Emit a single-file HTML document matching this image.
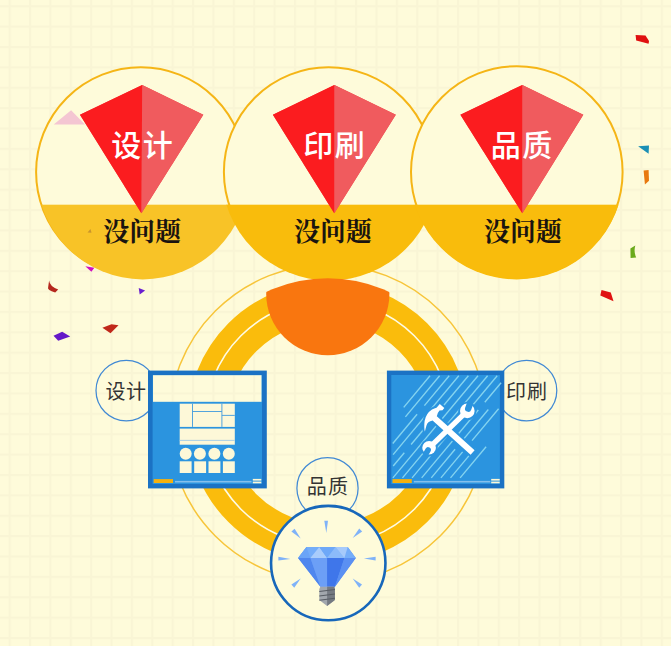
<!DOCTYPE html>
<html lang="zh-CN">
<head>
<meta charset="utf-8">
<title>设计 印刷 品质 没问题</title>
<style>
html,body{margin:0;padding:0;background:#fefbda;}
body{width:671px;height:646px;overflow:hidden;}
svg{display:block;}
.sans{font-family:"Liberation Sans","Noto Sans CJK SC",sans-serif;}
.serif{font-family:"Liberation Serif","Noto Serif CJK SC",serif;}
</style>
</head>
<body>
<svg width="671" height="646" viewBox="0 0 671 646">
<defs>
  <pattern id="grid" x="8.6" y="5.2" width="20.38" height="20.38" patternUnits="userSpaceOnUse">
    <rect width="20.38" height="20.38" fill="#fefbda"/>
    <rect x="0" y="0" width="2" height="20.38" fill="#f9f5d5"/>
    <rect x="0" y="0" width="20.38" height="2" fill="#f9f5d5"/>
  </pattern>
  <clipPath id="c1"><circle cx="142.7" cy="173.5" r="105.9"/></clipPath>
  <clipPath id="c2"><circle cx="329.5" cy="172.4" r="108.1"/></clipPath>
  <clipPath id="c3"><circle cx="516.7" cy="172.6" r="106.8"/></clipPath>
  <clipPath id="ringclip"><circle cx="327.7" cy="423.5" r="145.2"/></clipPath>
</defs>

<!-- background -->
<rect width="671" height="646" fill="url(#grid)"/>

<!-- ring -->
<g id="ring">
  <circle cx="327.7" cy="423.5" r="159" fill="none" stroke="#f7c53a" stroke-width="1.5"/>
  <circle cx="327.8" cy="422.7" r="120.8" fill="none" stroke="#fabc0c" stroke-width="39.5"/>
  <circle cx="327.6" cy="422.5" r="122.6" fill="none" stroke="#fefbe4" stroke-width="1.6"/>
</g>

<!-- confetti -->
<g id="confetti">
  <polygon points="85.3,266.3 94.4,267.7 91.4,271.8" fill="#d010c0"/>
  <path d="M49.1,280.4 Q49.5,286 58.2,289.5 L55.2,292.5 Q47,290 48.1,287.4 Z" fill="#b5281e"/>
  <polygon points="138.7,287.9 145.1,290.5 139.7,294.5" fill="#6a1fd0"/>
  <polygon points="102.4,327.7 111.5,324.3 118.5,325.3 110.5,333.3" fill="#c0281a"/>
  <polygon points="53.5,335.7 62.2,331.7 70.2,336.4 58.2,340.8" fill="#6418c8"/>
  <polygon points="635.6,35.1 645.5,35.5 649,41.1 648.6,43.8 636.2,40.4" fill="#e01010"/>
  <polygon points="638.1,146.3 649,145.4 648.6,153.7" fill="#1b8fb5"/>
  <polygon points="643.6,170.5 648.6,169.9 649,180.7 644.9,184.4" fill="#e8780f"/>
  <path d="M630.4,248.6 L635.3,245.5 Q633.5,252 636.2,257.5 L630.6,257.9 Z" fill="#6baa1c"/>
  <polygon points="601.5,290.1 610.8,292.5 613.5,301.2 600.3,295.4" fill="#e01212"/>
</g>

<!-- top circle 1 -->
<g id="circle1">
  <circle cx="140.8" cy="172" r="104.7" fill="#fefbda" stroke="#f5b516" stroke-width="2"/>
  <rect x="30" y="204.7" width="230" height="80" fill="#f8c327" clip-path="url(#c1)"/>
  <polygon points="53.7,124.6 71.1,110.2 85,124.6" fill="#f4c6d2"/>
  <polygon points="142.2,85 203.3,114.7 141.4,213.2 80,114.7" fill="#f53a3d"/>
  <polygon points="142.2,85 80,114.7 141.4,213.2" fill="#fb1c1f"/>
  <polygon points="142.2,85 203.3,114.7 141.4,213.2" fill="#f05b5e"/>
  <polygon points="87.5,232.5 90.5,229 91.5,232.8" fill="#c9952c"/>
  <text class="sans" x="111.2" y="155.6" font-size="30" font-weight="500" letter-spacing="1.6" fill="#ffffff">设计</text>
  <text class="serif" x="142.2" y="241" font-size="26" font-weight="700" fill="#1a1410" text-anchor="middle">没问题</text>
</g>

<!-- top circle 2 -->
<g id="circle2">
  <circle cx="328.6" cy="172" r="104.7" fill="#fefbda" stroke="#f5b516" stroke-width="2"/>
  <rect x="215" y="204.7" width="235" height="80" fill="#f9bc0c" clip-path="url(#c2)"/>
  <polygon points="334.4,85 395.8,114.7 334.3,213.2 272.9,114.7" fill="#f53a3d"/>
  <polygon points="334.4,85 272.9,114.7 334.3,213.2" fill="#fb1c1f"/>
  <polygon points="334.4,85 395.8,114.7 334.3,213.2" fill="#f05b5e"/>
  <text class="sans" x="303.2" y="155.6" font-size="30" font-weight="500" letter-spacing="1.6" fill="#ffffff">印刷</text>
  <text class="serif" x="333" y="241" font-size="26" font-weight="700" fill="#1a1410" text-anchor="middle">没问题</text>
</g>

<!-- top circle 3 -->
<g id="circle3">
  <circle cx="516.8" cy="172" r="105.8" fill="#fefbda" stroke="#f5b516" stroke-width="2"/>
  <rect x="405" y="204.7" width="230" height="80" fill="#f9bc0c" clip-path="url(#c3)"/>
  <polygon points="522.3,85 583.3,114.7 522.3,213.2 460.4,114.7" fill="#f53a3d"/>
  <polygon points="522.3,85 460.4,114.7 522.3,213.2" fill="#fb1c1f"/>
  <polygon points="522.3,85 583.3,114.7 522.3,213.2" fill="#f05b5e"/>
  <text class="sans" x="490.7" y="155.6" font-size="30" font-weight="500" letter-spacing="1.6" fill="#ffffff">品质</text>
  <text class="serif" x="523" y="241" font-size="26" font-weight="700" fill="#1a1410" text-anchor="middle">没问题</text>
</g>

<!-- orange half disc -->
<circle cx="327.8" cy="293.7" r="61.6" fill="#f9760f" clip-path="url(#ringclip)"/>

<!-- label circles -->
<g id="labels">
  <circle cx="126.3" cy="390.6" r="30.3" fill="url(#grid)" stroke="#4189d4" stroke-width="1.25"/>
  <text class="sans" x="105.6" y="398.9" font-size="20" letter-spacing="0.5" fill="#333333">设计</text>
  <circle cx="526.5" cy="390.6" r="30.3" fill="url(#grid)" stroke="#4189d4" stroke-width="1.25"/>
  <text class="sans" x="506" y="398.6" font-size="20" letter-spacing="1" fill="#333333">印刷</text>
  <circle cx="327.5" cy="488.2" r="30.6" fill="url(#grid)" stroke="#4189d4" stroke-width="1.25"/>
  <text class="sans" x="306.8" y="494.2" font-size="20" letter-spacing="1.2" fill="#333333">品质</text>
</g>

<!-- box 1 -->
<g id="box1">
  <rect x="148" y="370.6" width="118.8" height="117.8" fill="#1b72c4"/>
  <rect x="152.6" y="375" width="109.4" height="109" fill="#2b94df"/>
  <rect x="153" y="375.2" width="108.5" height="26.6" fill="url(#grid)"/>
  <!-- wireframe block 1 -->
  <rect x="179.7" y="403.7" width="55.1" height="23.2" fill="#fdf8d8"/>
  <g stroke="#3f9ade" stroke-width="0.9" fill="none">
    <line x1="192.5" y1="403.7" x2="192.5" y2="426.9"/>
    <line x1="221.9" y1="403.7" x2="221.9" y2="426.9"/>
    <line x1="192.5" y1="411.5" x2="221.9" y2="411.5"/>
    <line x1="221.9" y1="415.4" x2="234.8" y2="415.4"/>
  </g>
  <!-- wireframe block 2 -->
  <rect x="179.7" y="428.6" width="55.1" height="16.1" fill="#fdf8d8"/>
  <line x1="179.7" y1="440.4" x2="234.8" y2="440.4" stroke="#9fcbe8" stroke-width="0.9"/>
  <!-- circles -->
  <g fill="#fdf8d8">
    <circle cx="185.7" cy="453.8" r="6"/>
    <circle cx="199.9" cy="453.8" r="6"/>
    <circle cx="214.4" cy="453.8" r="6"/>
    <circle cx="228.8" cy="453.8" r="6"/>
    <rect x="179.7" y="461.3" width="11.9" height="11.7"/>
    <rect x="194.2" y="461.3" width="11.9" height="11.7"/>
    <rect x="208.5" y="461.3" width="11.9" height="11.7"/>
    <rect x="222.9" y="461.3" width="11.9" height="11.7"/>
  </g>
  <!-- bottom bar -->
  <rect x="153.7" y="479.1" width="19.3" height="3.9" fill="#f6b10e"/>
  <rect x="175" y="480.9" width="76.5" height="1.6" fill="#86c0ec"/>
  <rect x="252.8" y="478.9" width="8.5" height="1.7" fill="#fdf8d8"/>
  <rect x="252.8" y="481.6" width="8.5" height="1.7" fill="#fdf8d8"/>
</g>

<!-- box 2 -->
<g id="box2">
  <rect x="386.9" y="370.6" width="117.4" height="117.8" fill="#1b72c4"/>
  <rect x="391.3" y="375" width="108.6" height="109" fill="#2b94df"/>
  <g stroke="#84d4f0" stroke-width="1.35" fill="none" stroke-linecap="butt">
    <line x1="430.0" y1="375.8" x2="403.7" y2="407.4"/>
    <line x1="439.6" y1="375.8" x2="405.4" y2="416.9"/>
    <line x1="449.2" y1="375.8" x2="424.4" y2="405.6"/>
    <line x1="417.1" y1="414.3" x2="392.8" y2="443.5"/>
    <line x1="458.8" y1="375.8" x2="393.1" y2="454.6"/>
    <line x1="468.4" y1="375.8" x2="411.1" y2="444.5"/>
    <line x1="404.3" y1="452.7" x2="393.2" y2="466.0"/>
    <line x1="478.0" y1="375.8" x2="392.9" y2="477.9"/>
    <line x1="487.6" y1="375.8" x2="402.5" y2="477.9"/>
    <line x1="497.2" y1="375.8" x2="412.1" y2="477.9"/>
    <line x1="501.1" y1="382.7" x2="484.8" y2="402.2"/>
    <line x1="478.3" y1="410.0" x2="421.7" y2="477.9"/>
    <line x1="488.3" y1="409.5" x2="463.8" y2="438.9"/>
    <line x1="455.1" y1="449.3" x2="431.3" y2="477.9"/>
    <line x1="498.6" y1="408.7" x2="472.0" y2="440.6"/>
    <line x1="462.6" y1="451.9" x2="440.9" y2="477.9"/>
    <line x1="475.1" y1="448.4" x2="450.5" y2="477.9"/>
    <line x1="486.1" y1="446.7" x2="460.1" y2="477.9"/>
  </g>
  <!-- bottom bar -->
  <rect x="392.5" y="479.1" width="19.3" height="3.9" fill="#f6b10e"/>
  <rect x="413.8" y="480.9" width="76.5" height="1.6" fill="#86c0ec"/>
  <rect x="491.2" y="478.9" width="8.5" height="1.7" fill="#fdf8d8"/>
  <rect x="491.2" y="481.6" width="8.5" height="1.7" fill="#fdf8d8"/>
  <!-- tools icon -->
  <!-- halo so hatch lines stop short of the tools -->
  <g stroke="#2b94df" fill="#2b94df" stroke-linejoin="round">
    <line x1="429.1" y1="447.8" x2="467.3" y2="410.9" stroke-width="9.3"/>
    <circle cx="467.3" cy="410.9" r="9.2" stroke="none"/>
    <circle cx="429.1" cy="447.8" r="8.7" stroke="none"/>
    <path stroke-width="4" d="M439.8,404 L444.3,407.9 L442.5,410.2 L439.5,410.5 Q437.3,413 436.8,416.2 L474.6,450.2 L470.6,454.7 L432.6,420.5 Q427.4,421.3 426.4,425.8 Q425.6,428.5 424.9,431.6 Q423.8,428 424.6,421 Q426,413.5 432,409.6 Q434.5,408 436.5,407.7 Z"/>
  </g>
  <mask id="wrenchmask" maskUnits="userSpaceOnUse" x="410" y="395" width="80" height="70">
    <rect x="410" y="395" width="80" height="70" fill="#fff"/>
    <line x1="468.2" y1="408.6" x2="471.7" y2="399.2" stroke="#000" stroke-width="6.4" stroke-linecap="round"/>
    <line x1="428.1" y1="450" x2="423" y2="458.6" stroke="#000" stroke-width="5.6" stroke-linecap="round"/>
  </mask>
  <g mask="url(#wrenchmask)" fill="#ffffff">
    <line x1="429.1" y1="447.8" x2="467.3" y2="410.9" stroke="#ffffff" stroke-width="5.3"/>
    <circle cx="467.3" cy="410.9" r="7.3"/>
    <circle cx="429.1" cy="447.8" r="6.8"/>
  </g>
  <path fill="#ffffff" d="M439.8,404 L444.3,407.9 L442.5,410.2 L439.5,410.5 Q437.3,413 436.8,416.2 L474.6,450.2 L470.6,454.7 L432.6,420.5 Q427.4,421.3 426.4,425.8 Q425.6,428.5 424.9,431.6 Q423.8,428 424.6,421 Q426,413.5 432,409.6 Q434.5,408 436.5,407.7 Z"/>
</g>

<!-- diamond circle -->
<g id="gem">
  <circle cx="328.25" cy="563.1" r="57.2" fill="#fefbda" stroke="#1767ba" stroke-width="2.6"/>
  <!-- rays -->
  <g fill="#7fb2f8">
    <polygon points="324.3,520.8 328,520.8 326.3,532.9"/>
    <polygon points="291.4,531.6 294.6,528.8 300.7,538.5"/>
    <polygon points="359.2,528.6 362.2,531.6 352.7,538.1"/>
    <polygon points="278.4,556.7 278.4,560.4 290.4,558.9"/>
    <polygon points="375.6,556.7 375.6,560.4 363.9,558.5"/>
    <polygon points="291.4,584.6 294.2,587.7 300.7,578.4"/>
    <polygon points="359.2,587.7 362,584.6 352.7,578.4"/>
  </g>
  <!-- backing shape to avoid anti-alias seams between facets -->
  <polygon points="306.5,546.9 347.7,546.9 355.8,558 334.9,586.8 320.4,586.8 298.1,558" fill="#5f93f3"/>
  <!-- crown -->
  <polygon points="306.5,546.9 347.7,546.9 355.8,558 298.1,558" fill="#74adf9"/>
  <polygon points="310.4,558 319.3,546.9 327.1,558" fill="#a9ccfb"/>
  <polygon points="319.3,546.9 335.5,546.9 327.1,558" fill="#6ea8f8"/>
  <polygon points="327.1,558 335.5,546.9 344.4,558" fill="#8cbbfa"/>
  <polygon points="335.5,546.9 347.7,546.9 344.4,558" fill="#a6cafb"/>
  <polygon points="298.1,558 306.5,546.9 310.4,558" fill="#6aa4f7"/>
  <!-- pavilion -->
  <polygon points="298.1,558 310.4,558 320.4,586.8" fill="#4f86ee"/>
  <polygon points="310.4,558 327.1,558 327.1,586.8 320.4,586.8" fill="#6c9ff6"/>
  <polygon points="327.1,558 344.4,558 334.9,586.8 327.1,586.8" fill="#3f76ea"/>
  <polygon points="344.4,558 355.8,558 334.9,586.8" fill="#5b90f2"/>
  <!-- screw -->
  <polygon points="320.4,586.8 334.3,586.8 334.9,589 334.9,600 327.1,606 319.3,600 319.3,589" fill="#a2a7ad"/>
  <polygon points="327.1,586.8 334.3,586.8 334.9,589 334.9,600 327.1,606" fill="#757a82"/>
  <g stroke="#585d64" stroke-width="1.1" fill="none">
    <line x1="319.3" y1="591.5" x2="334.9" y2="589.5"/>
    <line x1="319.3" y1="596" x2="334.9" y2="594"/>
    <line x1="319.3" y1="600.3" x2="334.9" y2="598.3"/>
  </g>
</g>
</svg>
</body>
</html>
